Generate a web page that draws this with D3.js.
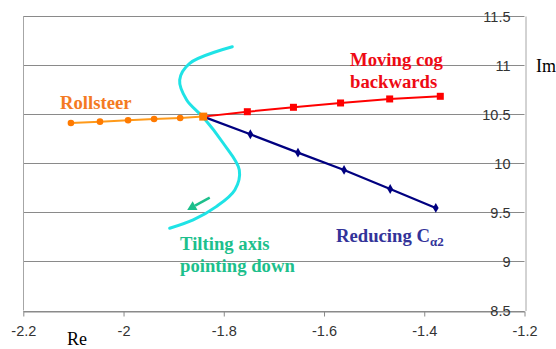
<!DOCTYPE html>
<html>
<head>
<meta charset="utf-8">
<script src="https://cdn.jsdelivr.net/npm/d3@7/dist/d3.min.js"></script>
<style>
  html, body { margin: 0; padding: 0; background: #fff; }
  svg { display: block; }
</style>
</head>
<body>
<svg id="chart" width="556" height="349"></svg>
<script>
// Root-locus style plot: Re on x, Im on y (axis drawn on the right)
const xTicks = [-2.2, -2.0, -1.8, -1.6, -1.4, -1.2];
const xTickLabels = ["-2.2", "-2", "-1.8", "-1.6", "-1.4", "-1.2"];
const yTicks = [8.5, 9, 9.5, 10, 10.5, 11, 11.5];
const yTickLabels = ["8.5", "9", "9.5", "10", "10.5", "11", "11.5"];

// Rollsteer branch
const rollRe = [-2.105, -2.047, -1.991, -1.939, -1.887, -1.841];
const rollIm = [10.41, 10.424, 10.438, 10.451, 10.461, 10.475];

// Moving cog backwards branch
const cogRe = [-1.841, -1.753, -1.661, -1.567, -1.469, -1.368];
const cogIm = [10.475, 10.525, 10.570, 10.614, 10.655, 10.682];

// Reducing C_alpha2 branch
const calRe = [-1.841, -1.747, -1.652, -1.560, -1.468, -1.377];
const calIm = [10.475, 10.295, 10.108, 9.932, 9.738, 9.545];

// Tilting axis pointing down (hand-sketched path)
const tiltRe = [-1.783, -1.868, -1.888, -1.874, -1.841, -1.801, -1.769, -1.778, -1.815, -1.861, -1.908];
const tiltIm = [11.187, 11.018, 10.848, 10.645, 10.468, 10.204, 9.932, 9.728, 9.558, 9.423, 9.338];

// Direction arrow for the tilting-axis path
const arrowRe = [-1.828, -1.873];
const arrowIm = [9.650, 9.524];

const SERIF = '"Liberation Serif", "Times New Roman", serif';
const SANS = '"Liberation Sans", Arial, sans-serif';

const svg = d3.select("#chart");
const x = d3.scaleLinear().domain([-2.2, -1.2]).range([23.3, 524.5]);
const y = d3.scaleLinear().domain([8.5, 11.5]).range([310.5, 16]);

const gridColor = "#8a8a8a";
const frameColor = "#a6a6a6";

// horizontal gridlines
svg.append("g").selectAll("line").data(yTicks).join("line")
  .attr("x1", x(-2.2)).attr("x2", x(-1.2))
  .attr("y1", d => Math.round(y(d)) + 0.5).attr("y2", d => Math.round(y(d)) + 0.5)
  .attr("stroke", gridColor).attr("stroke-width", 1);

// left frame
svg.append("line")
  .attr("x1", Math.round(x(-2.2)) + 0.5).attr("x2", Math.round(x(-2.2)) + 0.5)
  .attr("y1", y(11.5)).attr("y2", y(8.5))
  .attr("stroke", frameColor);

// bottom axis
const xAxis = d3.axisBottom(x).tickValues(xTicks)
  .tickFormat((d, i) => xTickLabels[i]).tickSizeOuter(0).tickSizeInner(5).tickPadding(9);
const gx = svg.append("g").attr("transform", `translate(0,${Math.round(y(8.5)) + 0.5})`).call(xAxis);
gx.select(".domain").attr("stroke", gridColor);
gx.selectAll(".tick line").attr("stroke", gridColor);
gx.selectAll(".tick text").style("font-family", SANS)
  .style("font-size", "14.5px").attr("fill", "#333");

// right axis with labels placed inside, on top of the gridlines
const yAxis = d3.axisRight(y).tickValues(yTicks)
  .tickFormat((d, i) => yTickLabels[i]).tickSize(0).tickPadding(0);
const gy = svg.append("g").attr("transform", `translate(${Math.round(x(-1.2)) + 0.5},0)`).call(yAxis);
gy.select(".domain").attr("stroke", frameColor);
gy.selectAll(".tick text").style("font-family", SANS)
  .attr("text-anchor", "end").attr("x", -15).attr("dy", "0.36em")
  .style("font-size", "14.5px").attr("fill", "#333");

// axis titles
svg.append("text").attr("x", 67).attr("y", 345)
  .style("font-family", SERIF).style("font-size", "18px").attr("fill", "#000").text("Re");
svg.append("text").attr("x", 536).attr("y", 72)
  .style("font-family", SERIF).style("font-size", "18px").attr("fill", "#000").text("Im");

const zip = (a, b) => a.map((v, i) => [v, b[i]]);

// tilting-axis path
svg.append("path")
  .datum(zip(tiltRe, tiltIm))
  .attr("d", d3.line().x(d => x(d[0])).y(d => y(d[1])).curve(d3.curveCatmullRom.alpha(0.5)))
  .attr("fill", "none").attr("stroke", "#1fe3e6").attr("stroke-width", 3)
  .attr("stroke-linecap", "round");

// arrow
const a0 = [x(arrowRe[0]), y(arrowIm[0])], a1 = [x(arrowRe[1]), y(arrowIm[1])];
const ang = Math.atan2(a1[1] - a0[1], a1[0] - a0[0]);
const headLen = 9, headW = 5;
const base = [a1[0] - headLen * Math.cos(ang), a1[1] - headLen * Math.sin(ang)];
svg.append("line")
  .attr("x1", a0[0]).attr("y1", a0[1]).attr("x2", base[0]).attr("y2", base[1])
  .attr("stroke", "#1dbf8c").attr("stroke-width", 2.5);
svg.append("path")
  .attr("d", `M${a1[0]},${a1[1]}L${base[0] + headW * Math.sin(ang)},${base[1] - headW * Math.cos(ang)}L${base[0] - headW * Math.sin(ang)},${base[1] + headW * Math.cos(ang)}Z`)
  .attr("fill", "#1dbf8c");

const line = d3.line().x(d => x(d[0])).y(d => y(d[1]));

// Reducing C_alpha2 (navy, diamonds)
const calData = zip(calRe, calIm);
svg.append("path").datum(calData).attr("d", line)
  .attr("fill", "none").attr("stroke", "#000080").attr("stroke-width", 2.2);
svg.append("g").selectAll("path").data(calData.slice(1)).join("path")
  .attr("d", d3.symbol(d3.symbolDiamond, 28))
  .attr("transform", d => `translate(${x(d[0])},${y(d[1])})`)
  .attr("fill", "#000080");

// Moving cog backwards (red, squares)
const cogData = zip(cogRe, cogIm);
svg.append("path").datum(cogData).attr("d", line)
  .attr("fill", "none").attr("stroke", "#ff0000").attr("stroke-width", 2);
svg.append("g").selectAll("rect").data(cogData.slice(1)).join("rect")
  .attr("x", d => x(d[0]) - 3.5).attr("y", d => y(d[1]) - 3.5)
  .attr("width", 7).attr("height", 7).attr("fill", "#ff0000");

// Rollsteer (orange, circles; square at the shared start point)
const rollData = zip(rollRe, rollIm);
svg.append("path").datum(rollData).attr("d", line)
  .attr("fill", "none").attr("stroke", "#ff9a1a").attr("stroke-width", 2);
svg.append("g").selectAll("circle").data(rollData.slice(0, -1)).join("circle")
  .attr("cx", d => x(d[0])).attr("cy", d => y(d[1])).attr("r", 3.3)
  .attr("fill", "#ff7a00");
const last = rollData[rollData.length - 1];
svg.append("rect")
  .attr("x", x(last[0]) - 4).attr("y", y(last[1]) - 4)
  .attr("width", 8).attr("height", 8).attr("fill", "#ff7a00");

// annotations
function label(lines, x0, y0, color, lh) {
  const t = svg.append("text")
    .style("font-family", SERIF).style("font-weight", "bold").style("font-size", "18.7px")
    .attr("fill", color);
  lines.forEach((s, i) => t.append("tspan").attr("x", x0).attr("y", y0 + i * lh).text(s));
  return t;
}
label(["Rollsteer"], 60, 109, "#f47a22", 0);
label(["Moving cog", "backwards"], 350, 66, "#ee0a14", 21.6);
label(["Tilting axis", "pointing down"], 180, 250, "#1dbf8c", 22.3);
const rc = label(["Reducing C"], 336, 242, "#333399", 0);
rc.append("tspan").style("font-size", "13px").attr("dy", 4).text("α2");
</script>
</body>
</html>
